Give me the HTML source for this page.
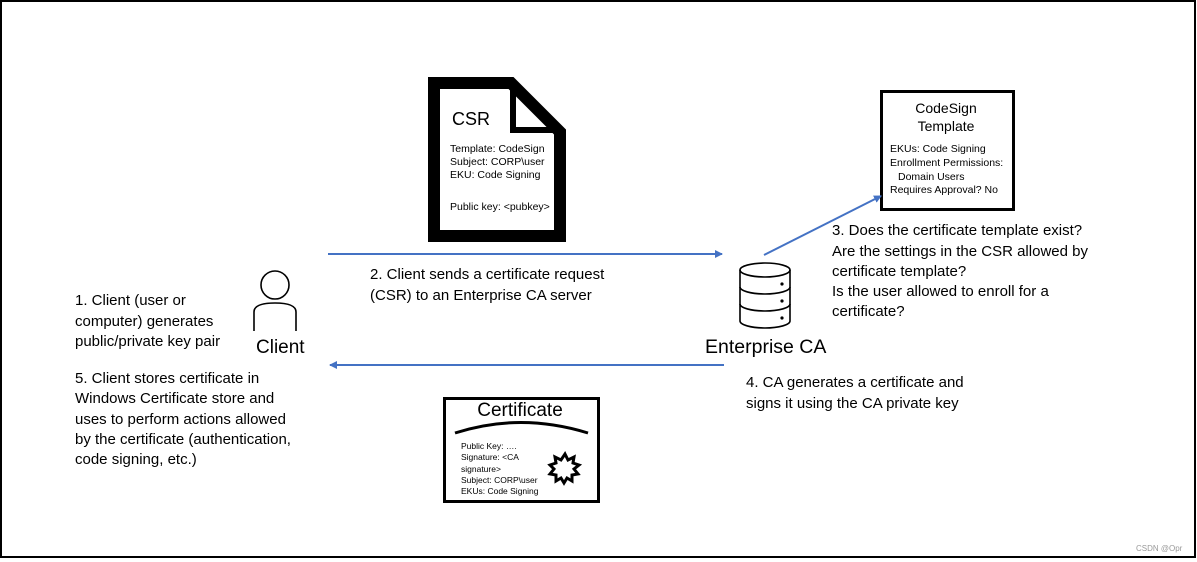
<!DOCTYPE html>
<html><head><style>
html,body{margin:0;padding:0;background:#fff}
svg{display:block}
text{font-family:"Liberation Sans",sans-serif;fill:#000}
</style></head><body>
<svg width="1197" height="562" viewBox="0 0 1197 562" xmlns="http://www.w3.org/2000/svg">
<defs><marker id="ah" markerWidth="8" markerHeight="8" refX="7" refY="4" orient="auto" markerUnits="userSpaceOnUse"><path d="M0,0 L8,4 L0,8 Z" fill="#4472c4"/></marker></defs>
<rect x="1" y="1" width="1194" height="556" fill="#fff" stroke="#000" stroke-width="2"/>
<!-- CSR doc -->
<path d="M434,83 L511,83 L560,132 L560,236 L434,236 Z" fill="#fff" stroke="#000" stroke-width="12" stroke-linejoin="miter"/>
<path d="M513,84 L513,130 L559,130" fill="none" stroke="#000" stroke-width="6"/>
<text x="452" y="125" font-size="18">CSR</text>
<g font-size="10.5"><text x="450" y="152">Template: CodeSign</text><text x="450" y="165">Subject: CORP\user</text><text x="450" y="178">EKU: Code Signing</text><text x="450" y="210">Public key: &lt;pubkey&gt;</text></g>
<!-- template -->
<rect x="881.5" y="91.5" width="132" height="118" fill="#fff" stroke="#000" stroke-width="3"/>
<text x="946" y="113" font-size="14" text-anchor="middle">CodeSign</text>
<text x="946" y="131" font-size="14" text-anchor="middle">Template</text>
<g font-size="10.5"><text x="890" y="152">EKUs: Code Signing</text><text x="890" y="166">Enrollment Permissions:</text><text x="898" y="180">Domain Users</text><text x="890" y="193">Requires Approval? No</text></g>
<!-- arrows -->
<g stroke="#4472c4" stroke-width="2" fill="none">
<line x1="328" y1="254" x2="722" y2="254" marker-end="url(#ah)"/>
<line x1="764" y1="255" x2="881" y2="196" marker-end="url(#ah)"/>
<line x1="724" y1="365" x2="330" y2="365" marker-end="url(#ah)"/>
</g>
<!-- database -->
<g fill="none" stroke="#000" stroke-width="1.6">
<ellipse cx="765" cy="270" rx="25" ry="7"/>
<path d="M740,270 V321 A25,7 0 0 0 790,321 V270"/>
<path d="M740,287 A25,7 0 0 0 790,287"/>
<path d="M740,304 A25,7 0 0 0 790,304"/>
</g>
<circle cx="782" cy="284" r="1.6"/><circle cx="782" cy="301" r="1.6"/><circle cx="782" cy="318" r="1.6"/>
<text x="705" y="353" font-size="19.5">Enterprise CA</text>
<!-- client -->
<g fill="none" stroke="#000" stroke-width="1.6">
<circle cx="275" cy="285" r="14"/>
<path d="M254,331 V312 Q254,303 275,303 Q296,303 296,312 V331"/>
</g>
<text x="256" y="353" font-size="19">Client</text>
<!-- certificate -->
<rect x="444.5" y="398.5" width="154" height="103" fill="#fff" stroke="#000" stroke-width="3"/>
<text x="520" y="416" font-size="19" text-anchor="middle">Certificate</text>
<path d="M455,433 Q520,412 588,433" fill="none" stroke="#000" stroke-width="3"/>
<g font-size="8.5"><text x="461" y="449">Public Key: ….</text><text x="461" y="460">Signature: &lt;CA</text><text x="461" y="472">signature&gt;</text><text x="461" y="483">Subject: CORP\user</text><text x="461" y="494">EKUs: Code Signing</text></g>
<polygon fill="none" stroke="#000" stroke-width="3" points="565,454 568,460 574,457 573,463 579,465 574,469 578,474 572,475 572,481 567,478 564,483 561,478 556,481 556,475 550,474 554,469 550,465 556,463 555,457 561,460"/>
<!-- texts -->
<g font-size="15">
<text x="75" y="305">1. Client (user or</text><text x="75" y="326">computer) generates</text><text x="75" y="346">public/private key pair</text>
<text x="75" y="383">5. Client stores certificate in</text><text x="75" y="403">Windows Certificate store and</text><text x="75" y="424">uses to perform actions allowed</text><text x="75" y="444">by the certificate (authentication,</text><text x="75" y="464">code signing, etc.)</text>
<text x="370" y="279">2. Client sends a certificate request</text><text x="370" y="300">(CSR) to an Enterprise CA server</text>
<text x="832" y="235">3. Does the certificate template exist?</text><text x="832" y="256">Are the settings in the CSR allowed by</text><text x="832" y="276">certificate template?</text><text x="832" y="296">Is the user allowed to enroll for a</text><text x="832" y="316">certificate?</text>
<text x="746" y="387">4. CA generates a certificate and</text><text x="746" y="408">signs it using the CA private key</text>
</g>
<text x="1136" y="551" font-size="8" style="fill:#999">CSDN @Opr</text>
</svg>
</body></html>
